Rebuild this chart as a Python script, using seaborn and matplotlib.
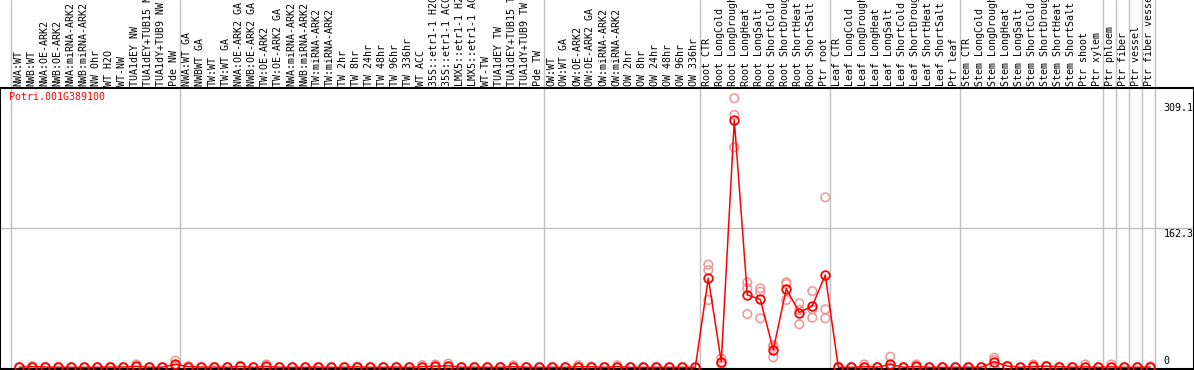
import matplotlib
matplotlib.use("Agg")
import matplotlib.pyplot as plt
import matplotlib.transforms as mtrans
import seaborn as sns
import pandas as pd
import numpy as np

gene = "Potri.001G389100"

samples = [
    "NWA:WT", "NWB:WT", "NWA:OE-ARK2", "NWB:OE-ARK2", "NWA:miRNA-ARK2", "NWB:miRNA-ARK2",
    "NW 0hr", "WT H2O", "WT-NW", "TUA1dEY NW", "TUA1dEY+TUB15 NW", "TUA1dY+TUB9 NW", "Pde NW",
    "NWA:WT GA", "NWBWT GA", "TW:WT", "TW:WT GA", "NWA:OE-ARK2 GA", "NWB:OE-ARK2 GA",
    "TW:OE-ARK2", "TW:OE-ARK2 GA", "NWA:miRNA-ARK2", "NWB:miRNA-ARK2", "TW:miRNA-ARK2",
    "TW:miRNA-ARK2", "TW 2hr", "TW 8hr", "TW 24hr", "TW 48hr", "TW 96hr", "TW 336hr",
    "WT ACC", "35S::etr1-1 H2O", "35S::etr1-1 ACC", "LMX5::etr1-1 H2O", "LMX5::etr1-1 ACC",
    "WT-TW", "TUA1dEY TW", "TUA1dEY+TUB15 TW", "TUA1dY+TUB9 TW", "Pde TW",
    "OW:WT", "OW:WT GA", "OW:OE-ARK2", "OW:OE-ARK2 GA", "OW:miRNA-ARK2", "OW:miRNA-ARK2",
    "OW 2hr", "OW 8hr", "OW 24hr", "OW 48hr", "OW 96hr", "OW 336hr",
    "Root CTR", "Root LongCold", "Root LongDrought", "Root LongHeat", "Root LongSalt",
    "Root ShortCold", "Root ShortDrought", "Root ShortHeat", "Root ShortSalt", "Ptr root",
    "Leaf CTR", "Leaf LongCold", "Leaf LongDrought", "Leaf LongHeat", "Leaf LongSalt",
    "Leaf ShortCold", "Leaf ShortDrought", "Leaf ShortHeat", "Leaf ShortSalt", "Ptr leaf",
    "Stem CTR", "Stem LongCold", "Stem LongDrought", "Stem LongHeat", "Stem LongSalt",
    "Stem ShortCold", "Stem ShortDrought", "Stem ShortHeat", "Stem ShortSalt", "Ptr shoot",
    "Ptr xylem", "Ptr phloem", "Ptr fiber", "Ptr vessel", "Ptr fiber vessel",
]

mean_expr = [
    0.3, 1.0, 0.5, 0.3, 0.2, 0.2, 0.3, 0.5, 0.5, 1.3, 0.3, 0.3, 3.7,
    1.0, 0.5, 0.5, 0.3, 1.2, 0.2, 1.2, 0.3, 0.2, 0.2, 0.5, 0.2, 0.3, 0.8, 0.2,
    0.2, 0.5, 0.2, 1.0, 1.5, 2.0, 0.3, 0.3, 0.3, 0.3, 0.8, 0.3, 0.2,
    0.3, 0.2, 1.0, 0.8, 0.2, 1.0, 0.2, 0.2, 0.2, 0.2, 0.2, 0.2,
    103.7, 6.7, 287.2, 84.3, 79.0, 20.7, 91.4, 63.8, 71.4, 107.4,
    0.3, 0.2, 1.0, 0.3, 3.7, 0.2, 1.2, 0.2, 0.2, 0.2,
    0.3, 0.3, 6.7, 1.7, 0.2, 1.2, 1.5, 0.8, 0.3, 0.8, 0.2,
    0.8, 0.2, 0.3, 0.5,
]

rep_a = [
    0.3, 1.5, 0.5, 0.3, 0.2, 0.2, 0.3, 0.8, 0.5, 3.5, 0.3, 0.3, 7.9,
    1.5, 0.5, 0.5, 0.3, 2.0, 0.2, 3.5, 0.3, 0.2, 0.2, 0.5, 0.2, 0.3, 0.8, 0.2,
    0.2, 0.5, 0.2, 2.8, 3.5, 4.5, 0.3, 0.3, 0.3, 0.3, 2.5, 0.3, 0.2,
    0.3, 0.2, 2.6, 1.2, 0.2, 2.6, 0.2, 0.2, 0.2, 0.2, 0.2, 0.2,
    119.5, 10.7, 312.6, 98.9, 92.0, 26.1, 98.9, 74.5, 88.8, 197.6,
    1.5, 0.2, 3.5, 0.3, 12.5, 0.2, 3.5, 0.2, 0.2, 0.2,
    0.3, 0.3, 11.4, 2.0, 0.2, 3.5, 1.8, 0.8, 0.3, 3.5, 0.2,
    3.5, 0.2, 0.3, 1.5,
]

rep_b = [
    0.3, 1.0, 0.5, 0.3, 0.2, 0.2, 0.3, 0.5, 0.5, 0.3, 0.3, 0.3, 2.5,
    1.0, 0.5, 0.5, 0.3, 1.0, 0.2, 0.2, 0.3, 0.2, 0.2, 0.5, 0.2, 0.3, 0.8, 0.2,
    0.2, 0.5, 0.2, 0.2, 0.8, 1.3, 0.3, 0.3, 0.3, 0.3, 0.0, 0.3, 0.2,
    0.3, 0.2, 0.4, 0.8, 0.2, 0.3, 0.2, 0.2, 0.2, 0.2, 0.2, 0.2,
    113.2, 5.0, 293.2, 92.0, 88.0, 24.1, 96.9, 66.8, 67.6, 67.6,
    0.0, 0.2, 0.0, 0.3, 0.3, 0.2, 0.2, 0.2, 0.2, 0.2,
    0.3, 0.3, 8.7, 1.8, 0.2, 0.2, 1.5, 0.8, 0.3, 0.0, 0.2,
    0.0, 0.2, 0.3, 0.0,
]

rep_c = [
    0.3, 0.5, 0.5, 0.3, 0.2, 0.2, 0.3, 0.2, 0.5, 0.2, 0.3, 0.3, 0.8,
    0.5, 0.5, 0.5, 0.3, 0.5, 0.2, 0.0, 0.3, 0.2, 0.2, 0.5, 0.2, 0.3, 0.8, 0.2,
    0.2, 0.5, 0.2, 0.0, 0.2, 0.2, 0.3, 0.3, 0.3, 0.3, 0.0, 0.3, 0.2,
    0.3, 0.2, 0.0, 0.4, 0.2, 0.0, 0.2, 0.2, 0.2, 0.2, 0.2, 0.2,
    78.4, 4.4, 255.7, 62.1, 57.1, 11.8, 78.4, 50.2, 57.8, 57.1,
    0.0, 0.2, 0.0, 0.3, 0.0, 0.2, 0.0, 0.2, 0.2, 0.2,
    0.3, 0.3, 0.2, 1.3, 0.2, 0.0, 1.2, 0.8, 0.3, 0.0, 0.2,
    0.0, 0.2, 0.3, 0.0,
]

group_ends = [-1, 12, 40, 52, 62, 72, 83, 84, 85, 86, 87]
ytick_values = [309.1, 162.3, 0]
ytick_labels = ["309.1", "162.3", "0"]

# ---------------------------------------------------------------
W, H = 1194, 370
fig = plt.figure(figsize=(W / 100, H / 100), dpi=100)
sns.set_style("white")
plt.rcParams["font.family"] = ["DejaVu Sans Mono", "DejaVu Sans"]

ax_top_px, ax_bot_px = 88, 369
ax = fig.add_axes([0, (H - ax_bot_px) / H, 1, (ax_bot_px - ax_top_px) / H])

x0_px, step_px = 19.3, 13.0
ax.set_xlim(-x0_px / step_px, (W - x0_px) / step_px)
zero_px, scale = 367.5, 0.8613
ax.set_ylim(-(ax_bot_px - zero_px) / scale, (zero_px - ax_top_px) / scale)

n = len(samples)
idx = np.arange(n)
mean_df = pd.DataFrame({"x": idx, "value": mean_expr})
rep_df = pd.DataFrame({
    "x": np.concatenate([idx, idx, idx]),
    "value": np.concatenate([rep_a, rep_b, rep_c]),
})

# grid lines
top_frac = (ax_bot_px - 0) / (ax_bot_px - ax_top_px)
blend = mtrans.blended_transform_factory(ax.transData, ax.transAxes)
for g in group_ends:
    ax.plot([g + 0.37, g + 0.37], [0, top_frac], color="#c0c0c0", lw=1.0,
            transform=blend, clip_on=False, zorder=1)
ax.axhline(162.3, color="#c0c0c0", lw=1.0, zorder=1)

sns.scatterplot(data=rep_df, x="x", y="value", ax=ax, marker="o",
                facecolor="none", edgecolor="#f09595", linewidth=1.1, s=38,
                zorder=2, legend=False)
sns.lineplot(data=mean_df, x="x", y="value", ax=ax, color="#ff0000", lw=1.1,
             marker="o", markersize=6.2, markerfacecolor="none",
             markeredgecolor="#ff0000", markeredgewidth=1.3, zorder=3)

ax.set_xlabel("")
ax.set_ylabel("")
ax.set_xticks([])
ax.set_yticks([])
for side in ["left", "right", "top", "bottom"]:
    ax.spines[side].set_visible(True)
    ax.spines[side].set_color("black")
    ax.spines[side].set_linewidth(1.5)

# rotated sample labels above the plot
lab_y = 1 + 2.0 / (ax_bot_px - ax_top_px)
for i, s in enumerate(samples):
    ax.text(i - 0.1, lab_y, s, rotation=90, ha="center", va="bottom",
            fontsize=7.2, color="black", transform=blend, clip_on=False)

# y labels on the right
ylab_x = (1163.5 - x0_px) / step_px
for v, t in zip(ytick_values, ytick_labels):
    if v == 0:
        ax.text(ylab_x, v + 1.5 / scale, t, ha="left", va="bottom", fontsize=7.2,
                color="black", clip_on=False)
    else:
        ax.text(ylab_x, v - 1.5 / scale, t, ha="left", va="top", fontsize=7.2,
                color="black", clip_on=False)

# gene name
ax.text(9 / W, 1 - (97 - ax_top_px) / (ax_bot_px - ax_top_px), gene,
        transform=ax.transAxes, ha="left", va="center", fontsize=7.2,
        color="#ff0000")

fig.savefig("out.png", dpi=100)
